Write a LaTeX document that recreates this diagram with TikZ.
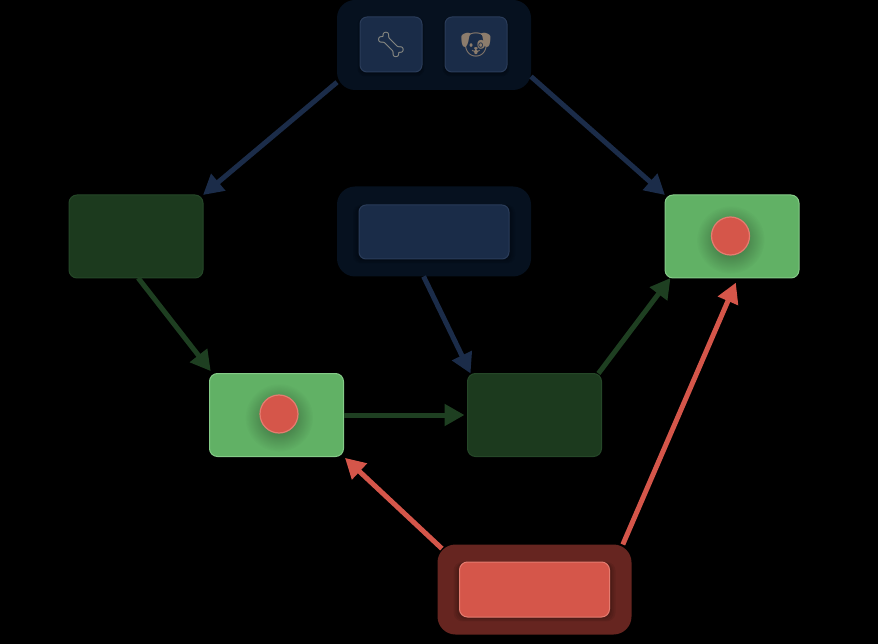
\documentclass[tikz,border=0pt]{standalone}
\usepackage{fontspec}
\usepackage{xcolor}
\usetikzlibrary{arrows.meta,shadows,fadings}
\newfontfamily\emojifont{Noto Emoji}
\definecolor{NightBlue}{HTML}{06111F}
\definecolor{SlateBlue}{HTML}{1A2C48}
\definecolor{SlateEdge}{HTML}{2A3C59}
\definecolor{ArrowBlue}{HTML}{1B2C49}
\definecolor{PineGreen}{HTML}{1C3A1E}
\definecolor{PineEdge}{HTML}{254728}
\definecolor{ArrowPine}{HTML}{1E3F21}
\definecolor{LeafGreen}{HTML}{61B165}
\definecolor{LeafEdge}{HTML}{85CB88}
\definecolor{Coral}{HTML}{D5564A}
\definecolor{CoralEdge}{HTML}{E57C70}
\definecolor{Rust}{HTML}{662520}
\definecolor{BoneGrey}{HTML}{8F8F86}
\definecolor{DogBrown}{HTML}{8C7C6C}
\tikzfading[name=softdot, inner color=transparent!0, outer color=transparent!100]

\begin{document}
\begin{tikzpicture}[
    x=1pt, y=-1pt,
    every node/.style={inner sep=0pt, outer sep=0pt},
    softshadow/.style={
      general shadow={fill=black, opacity=0.07, shadow scale=#1, shadow yshift=-2pt},
      general shadow={fill=black, opacity=0.08, shadow scale=1+(#1-1)*0.7, shadow yshift=-2pt},
      general shadow={fill=black, opacity=0.09, shadow scale=1+(#1-1)*0.4, shadow yshift=-1pt}},
    group/.style={rounded corners=18pt, minimum width=194pt, minimum height=90pt},
    card/.style={rectangle, rounded corners=8pt, minimum width=134pt, minimum height=83pt, line width=1pt},
    tile/.style={rounded corners=7pt, draw=SlateEdge, fill=SlateBlue, line width=1pt, softshadow=1.08},
    dot/.style={circle, minimum size=38pt, draw=CoralEdge, fill=Coral, line width=1.2pt,
      general shadow={fill=black, opacity=0.45, path fading=softdot, shadow scale=1.8, shadow yshift=-2pt}},
    emoji/.style={font=\emojifont\fontsize{25pt}{25pt}\selectfont},
    arrow/.style={-{Triangle[length=20pt, width=21pt]}, line width=5pt}
  ]
  \fill[black] (0,0) rectangle (878,644);
  \useasboundingbox (0,0) rectangle (878,644);

  \node[group, fill=NightBlue] (top) at (434,45) {};
  \node[tile, minimum width=62pt, minimum height=55pt, emoji, text=BoneGrey] (bone) at (391,44.5) {🦴};
  \node[tile, minimum width=62pt, minimum height=55pt, emoji, text=DogBrown] (dog) at (476,44.5) {🐶};

  \node[group, fill=NightBlue] (middle) at (434,231.5) {};
  \node[tile, minimum width=150pt, minimum height=54pt] (wide) at (434,232) {};

  \node[card, draw=PineEdge, fill=PineGreen] (left) at (136,236.5) {};
  \node[card, draw=LeafEdge, fill=LeafGreen] (right) at (732,236.5) {};
  \node[card, draw=LeafEdge, fill=LeafGreen] (low) at (276.5,415) {};
  \node[card, draw=PineEdge, fill=PineGreen] (centre) at (534.5,415) {};
  \node[dot] (rightdot) at (730.5,236) {};
  \node[dot] (lowdot) at (279,414) {};

  \node[group, fill=Rust] (base) at (534.5,589.5) {};
  \node[rectangle, rounded corners=8pt, draw=CoralEdge, fill=Coral, line width=1pt, softshadow=1.08,
    minimum width=150pt, minimum height=55pt] (alarm) at (534.5,589.5) {};

  \draw[arrow, draw=ArrowBlue, fill=ArrowBlue] (top.201) -- (left.north east);
  \draw[arrow, draw=ArrowBlue, fill=ArrowBlue] (top.-18) -- (right.north west);
  \draw[arrow, draw=ArrowBlue, fill=ArrowBlue] (middle.-103) -- (centre.147.5);
  \draw[arrow, draw=ArrowPine, shorten >=3pt] (left.-87) -- (low.147);
  \draw[arrow, draw=ArrowPine, shorten >=3pt] (low.east) -- (centre.west);
  \draw[arrow, draw=ArrowPine] (centre.33) -- (right.214);
  \draw[arrow, draw=Coral, shorten <=-6pt, shorten >=2pt] (base.north west) -- (low.south east);
  \draw[arrow, draw=Coral, shorten >=5pt] (base.27) -- (right.-82);
\end{tikzpicture}
\end{document}
